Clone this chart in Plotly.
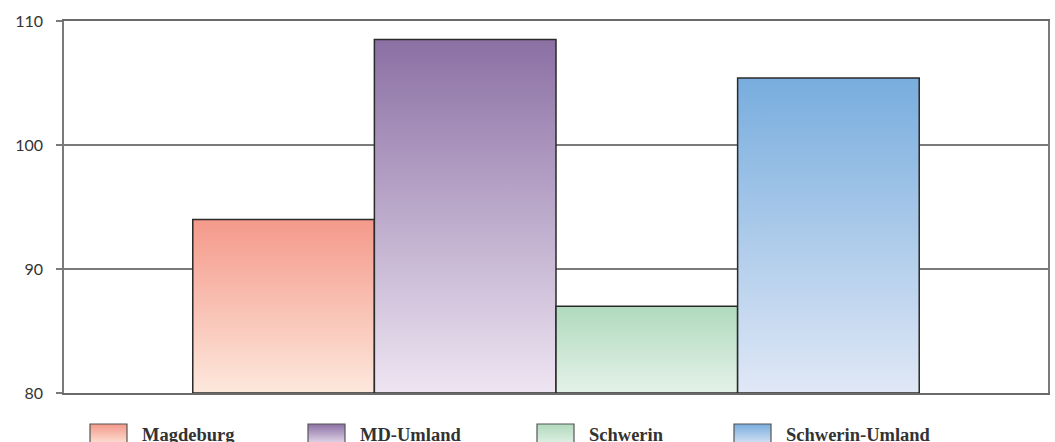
import plotly.graph_objects as go

# Index values per region (axis starts at 80)
regions = ["Magdeburg", "MD-Umland", "Schwerin", "Schwerin-Umland"]
values = [94.0, 108.5, 87.0, 105.4]
y_ticks = [80, 90, 100, 110]

# Gradient colours per region: (bottom, top)
bottom_colors = ["#FDE8DC", "#EEE5F2", "#E4F2E8", "#E0E8F6"]
top_colors = ["#F4998A", "#8B70A4", "#B0DABD", "#78ADDE"]

# Layout constants
W, H = 1055, 442
M_L, M_R, M_T = 64, 7, 21
PLOT_BOTTOM = 393            # pixel row of the 80 line
Y_MIN, Y_MAX = 80, 110
SIDE_GAP = 0.709             # empty space left/right of the bar group, in bar widths
LEGEND_X = [90, 308, 537, 734]
SWATCH_W = 37
SWATCH_TOP = 424
SWATCH_H = 22
TEXT_DX = 50

split = (H - PLOT_BOTTOM) / (H - M_T)

fig = go.Figure()

for i, (name, v) in enumerate(zip(regions, values)):
    x0, x1 = i - 0.5, i + 0.5
    fig.add_trace(go.Scatter(
        x=[x0, x1, x1, x0, x0],
        y=[Y_MIN, Y_MIN, v, v, Y_MIN],
        mode="lines",
        fill="toself",
        fillgradient=dict(
            type="vertical",
            colorscale=[[0, bottom_colors[i]], [1, top_colors[i]]],
            start=Y_MIN, stop=v,
        ),
        line=dict(color="#2a2a2a", width=1.5),
        name=name,
        showlegend=False,
        hoverinfo="skip",
        xaxis="x", yaxis="y",
    ))

# Legend row: gradient swatches on an auxiliary pixel-scaled subplot
for i, name in enumerate(regions):
    lx = LEGEND_X[i]
    y_lo = SWATCH_TOP + SWATCH_H
    fig.add_trace(go.Scatter(
        x=[lx, lx + SWATCH_W, lx + SWATCH_W, lx, lx],
        y=[y_lo, y_lo, SWATCH_TOP, SWATCH_TOP, y_lo],
        mode="lines",
        fill="toself",
        fillgradient=dict(
            type="vertical",
            colorscale=[[0, top_colors[i]], [1, bottom_colors[i]]],
            start=SWATCH_TOP, stop=y_lo,
        ),
        line=dict(color="#555555", width=1.2),
        showlegend=False,
        hoverinfo="skip",
        xaxis="x2", yaxis="y2",
    ))
    fig.add_annotation(
        x=lx + TEXT_DX, y=423, xref="x2", yref="y2",
        text=name, showarrow=False, xanchor="left", yanchor="top",
        font=dict(family="Liberation Serif", size=18.5, color="#333333", weight="bold"),
    )

fig.update_layout(
    template="none",
    width=W, height=H,
    margin=dict(l=M_L, r=M_R, t=M_T, b=0, pad=0, autoexpand=False),
    paper_bgcolor="white", plot_bgcolor="white",
    showlegend=False,
    xaxis=dict(
        domain=[0, 1], anchor="y", automargin=False,
        range=[-0.5 - SIDE_GAP, len(regions) - 0.5 + SIDE_GAP],
        showgrid=False, zeroline=False, showticklabels=False, ticks="",
        showline=True, mirror=True, linecolor="#6a6a6a", linewidth=1.5,
    ),
    yaxis=dict(
        domain=[split, 1], anchor="x", automargin=False,
        range=[Y_MIN, Y_MAX], tickvals=y_ticks,
        showgrid=True, gridcolor="#7a7a7a", gridwidth=1.5,
        zeroline=False,
        showline=True, mirror=True, linecolor="#7a7a7a", linewidth=1.5,
        ticks="outside", ticklen=6, tickcolor="#7a7a7a", tickwidth=1.5,
        ticklabelstandoff=10,
        tickfont=dict(family="Lato", size=16, color="#333333"),
    ),
    xaxis2=dict(
        domain=[0, 1], anchor="y2", range=[M_L, W - M_R], automargin=False,
        visible=False, fixedrange=True,
    ),
    yaxis2=dict(
        domain=[0, split], anchor="x2", range=[H, PLOT_BOTTOM], automargin=False,
        visible=False, fixedrange=True,
    ),
)

fig.write_html("out.html")
